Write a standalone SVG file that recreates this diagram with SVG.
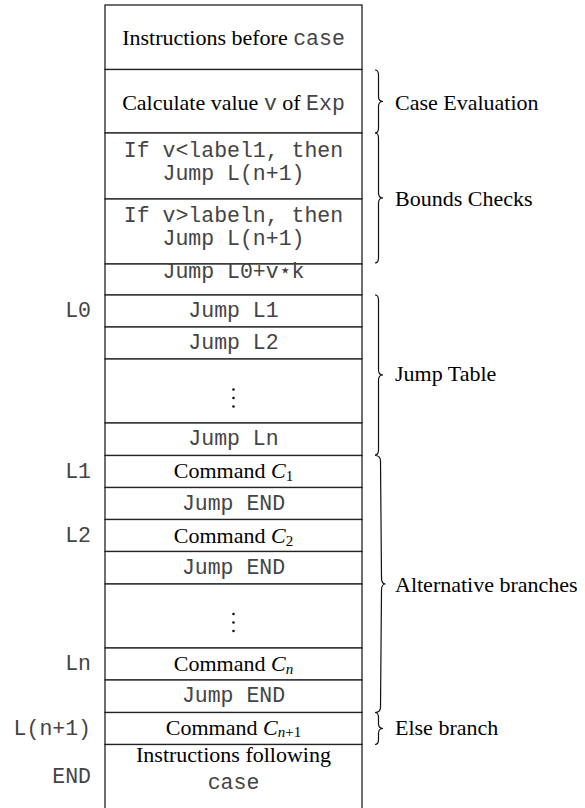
<svg xmlns="http://www.w3.org/2000/svg" width="585" height="808" viewBox="0 0 585 808">
<style>
.cell{fill:#fff;stroke:#222;stroke-width:1.3}
.sr{font-family:"Liberation Serif","Times New Roman",serif;font-size:22px;fill:#000}
.mo{font-family:"Liberation Mono","Courier New",monospace;font-size:21.5px;fill:#444}
.c{text-anchor:middle}
.lbl{text-anchor:end}
.it{font-style:italic}
.sub{font-size:15px}
.br{fill:none;stroke:#111;stroke-width:1.2}
.dot{fill:#111}
</style>
<g id="stack">
<g id="n1"><rect class="cell" x="105" y="5" width="257" height="64.5"/><text class="sr c" x="233.5" y="45">Instructions before <tspan class="mo">case</tspan></text></g>
<g id="n2"><rect class="cell" x="105" y="69.5" width="257" height="63.5"/><text class="sr c" x="233.5" y="110">Calculate value <tspan class="mo">v</tspan> of <tspan class="mo">Exp</tspan></text></g>
<g id="n3"><rect class="cell" x="105" y="133" width="257" height="66"/><text class="mo c" x="233.5" y="157">If v&lt;label1, then</text><text class="mo c" x="233.5" y="180">Jump L(n+1)</text></g>
<g id="n4"><rect class="cell" x="105" y="199" width="257" height="65"/><text class="mo c" x="233.5" y="222">If v&gt;labeln, then</text><text class="mo c" x="233.5" y="245">Jump L(n+1)</text></g>
<g id="n5"><rect class="cell" x="105" y="264" width="257" height="31"/><text class="mo c" x="233.5" y="277.5">Jump L0+v⋆k</text></g>
<g id="n6"><rect class="cell" x="105" y="295" width="257" height="32"/><text class="mo c" x="233.5" y="316.5">Jump L1</text><text class="mo lbl" x="91" y="316.5">L0</text></g>
<g id="n7"><rect class="cell" x="105" y="327" width="257" height="32"/><text class="mo c" x="233.5" y="348.5">Jump L2</text></g>
<g id="n8"><rect class="cell" x="105" y="359" width="257" height="64"/><circle class="dot" cx="233.5" cy="389.5" r="1.3"/><circle class="dot" cx="233.5" cy="398" r="1.3"/><circle class="dot" cx="233.5" cy="406.5" r="1.3"/></g>
<g id="n9"><rect class="cell" x="105" y="423" width="257" height="32.5"/><text class="mo c" x="233.5" y="444.5">Jump Ln</text></g>
<g id="n10"><rect class="cell" x="105" y="455.5" width="257" height="32"/><text class="sr c" x="233.5" y="478">Command <tspan class="it">C</tspan><tspan class="sub" dy="3">1</tspan></text><text class="mo lbl" x="91" y="477.5">L1</text></g>
<g id="n11"><rect class="cell" x="105" y="487.5" width="257" height="32"/><text class="mo c" x="233.5" y="509.5">Jump END</text></g>
<g id="n12"><rect class="cell" x="105" y="519.5" width="257" height="32"/><text class="sr c" x="233.5" y="542.5">Command <tspan class="it">C</tspan><tspan class="sub" dy="3">2</tspan></text><text class="mo lbl" x="91" y="541.5">L2</text></g>
<g id="n13"><rect class="cell" x="105" y="551.5" width="257" height="32.5"/><text class="mo c" x="233.5" y="574">Jump END</text></g>
<g id="n14"><rect class="cell" x="105" y="584" width="257" height="64"/><circle class="dot" cx="233.5" cy="614" r="1.3"/><circle class="dot" cx="233.5" cy="622.5" r="1.3"/><circle class="dot" cx="233.5" cy="631" r="1.3"/></g>
<g id="n15"><rect class="cell" x="105" y="648" width="257" height="32"/><text class="sr c" x="233.5" y="671">Command <tspan class="it">C</tspan><tspan class="sub it" dy="3">n</tspan></text><text class="mo lbl" x="91" y="670">Ln</text></g>
<g id="n16"><rect class="cell" x="105" y="680" width="257" height="32.5"/><text class="mo c" x="233.5" y="702">Jump END</text></g>
<g id="n17"><rect class="cell" x="105" y="712.5" width="257" height="32"/><text class="sr c" x="233.5" y="734.5">Command <tspan class="it">C</tspan><tspan class="sub" dy="2.5"><tspan class="it">n</tspan>+1</tspan></text><text class="mo lbl" x="91" y="734.5">L(n+1)</text></g>
<g id="n18"><rect class="cell" x="105" y="744.5" width="257" height="70"/><text class="sr c" x="233.5" y="762">Instructions following</text><text class="mo c" x="233.5" y="789">case</text><text class="mo lbl" x="91" y="783">END</text></g>
</g>
<g id="connectors">
<path class="br" d="M375 70 Q378.5 70 378.5 75 L378.5 96.5 Q378.5 101.5 383 101.5 Q378.5 101.5 378.5 106.5 L378.5 128 Q378.5 133 375 133"/>
<path class="br" d="M375 133 Q378.5 133 378.5 138 L378.5 193 Q378.5 198 383 198 Q378.5 198 378.5 203 L378.5 258 Q378.5 263 375 263"/>
<path class="br" d="M375 295 Q378.5 295 378.5 300 L378.5 370 Q378.5 375 383 375 Q378.5 375 378.5 380 L378.5 450 Q378.5 455 375 455"/>
<path class="br" d="M375 455.5 Q380.5 455.5 380.5 461 L381.5 578 Q381.5 584 385.5 584 Q381.5 584 381.5 590 L380.5 707 Q380.5 712.5 375 712.5"/>
<path class="br" d="M375 712.5 Q378.5 712.5 378.5 717.5 L378.5 723.5 Q378.5 728.5 383 728.5 Q378.5 728.5 378.5 733.5 L378.5 739.5 Q378.5 744.5 375 744.5"/>
</g>
<g id="labels">
<text class="sr" x="395" y="110">Case Evaluation</text>
<text class="sr" x="395" y="206">Bounds Checks</text>
<text class="sr" x="395" y="381">Jump Table</text>
<text class="sr" x="395" y="591.5">Alternative branches</text>
<text class="sr" x="395" y="735">Else branch</text>
</g>
</svg>
